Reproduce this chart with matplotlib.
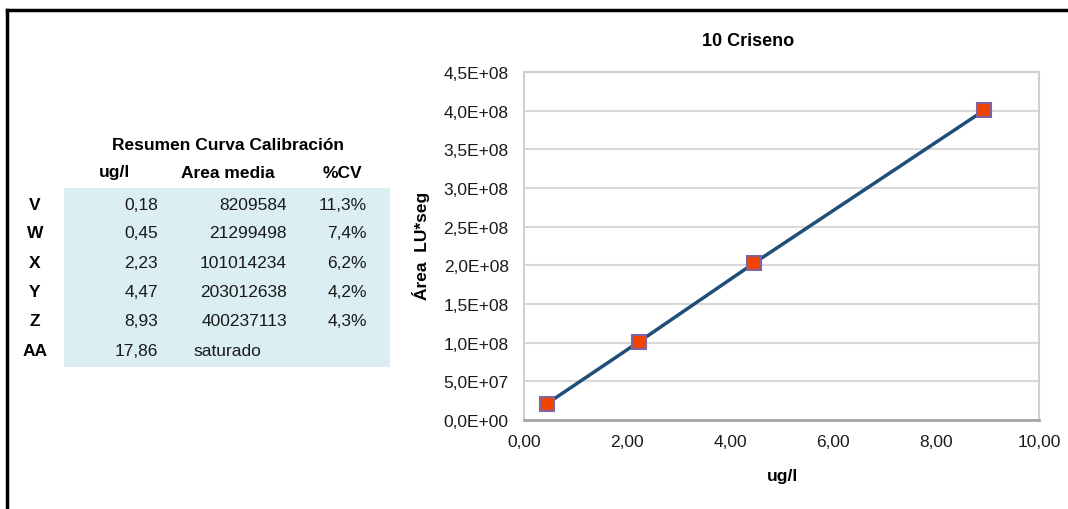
import matplotlib.pyplot as plt
from matplotlib.lines import Line2D
from matplotlib.patches import Rectangle
from matplotlib.ticker import FuncFormatter, MultipleLocator

plt.rcParams['font.family'] = ['Liberation Sans', 'DejaVu Sans']

# calibration summary
labels = ['V', 'W', 'X', 'Y', 'Z', 'AA']
conc_text = ['0,18', '0,45', '2,23', '4,47', '8,93', '17,86']
area_text = ['8209584', '21299498', '101014234', '203012638', '400237113', 'saturado']
cv_text = ['11,3%', '7,4%', '6,2%', '4,2%', '4,3%', '']

# points used in the curve (W..Z)
conc = [0.45, 2.23, 4.47, 8.93]
area = [21299498, 101014234, 203012638, 400237113]

W, H = 1068, 510
fig = plt.figure(figsize=(W / 100, H / 100), dpi=100)


def px(x, y):
    return x / W, 1 - y / H


# frame lines (left and top)
fig.add_artist(Line2D([7 / W, 7 / W], [0, 1 - 11 / H], color='black', lw=2.5,
                      transform=fig.transFigure))
fig.add_artist(Line2D([7 / W, 1], [1 - 11 / H, 1 - 11 / H], color='black', lw=2.5,
                      transform=fig.transFigure))

# table background
x0, y0 = px(64, 368)
fig.add_artist(Rectangle((x0, y0), (390 - 64) / W, (368 - 189) / H,
                         facecolor='#daeef3', edgecolor='none',
                         transform=fig.transFigure))

fs = 12.5
fig.text(*px(228, 145), 'Resumen Curva Calibración', ha='center', va='center',
         fontsize=fs, fontweight='bold')
fig.text(*px(115, 173), 'ug/l', ha='center', va='center', fontsize=fs, fontweight='bold')
fig.text(*px(228, 173), 'Area media', ha='center', va='center', fontsize=fs, fontweight='bold')
fig.text(*px(342, 173), '%CV', ha='center', va='center', fontsize=fs, fontweight='bold')

row_y = [205, 234, 263, 293, 322, 352]
for lab, c, a, cv, y in zip(labels, conc_text, area_text, cv_text, row_y):
    fig.text(*px(35, y), lab, ha='center', va='center', fontsize=fs, fontweight='bold')
    fig.text(*px(158, y), c, ha='right', va='center', fontsize=fs, color='#1a1a1a')
    if a == 'saturado':
        fig.text(*px(193, y), a, ha='left', va='center', fontsize=fs, color='#1a1a1a')
    else:
        fig.text(*px(287, y), a, ha='right', va='center', fontsize=fs, color='#1a1a1a')
    fig.text(*px(367, y), cv, ha='right', va='center', fontsize=fs, color='#1a1a1a')

# chart
ax = fig.add_axes([524 / W, 1 - 421 / H, (1039 - 524) / W, (421 - 73) / H])
ax.plot(conc, area, color='#1f4e79', lw=2.5, zorder=3)
ax.plot(conc, area, ls='none', marker='s', markersize=10,
        markerfacecolor='#f04400', markeredgecolor='#8064a2', markeredgewidth=1.5,
        zorder=4)

ax.set_xlim(0, 10)
ax.set_ylim(0, 4.5e8)
ax.xaxis.set_major_locator(MultipleLocator(2))
ax.yaxis.set_major_locator(MultipleLocator(5e7))
ax.xaxis.set_major_formatter(FuncFormatter(lambda v, p: f'{v:.2f}'.replace('.', ',')))
ax.yaxis.set_major_formatter(FuncFormatter(lambda v, p: f'{v:.1E}'.replace('.', ',')))
ax.tick_params(length=0, labelsize=12.5, colors='#1a1a1a')
ax.tick_params(axis='y', pad=11)
ax.tick_params(axis='x', pad=10)

ax.grid(axis='y', color='#d9d9d9', lw=1.5)
ax.set_axisbelow(True)
for s in ['top', 'right', 'left']:
    ax.spines[s].set_color('#d0d0d0')
    ax.spines[s].set_linewidth(1.5)
ax.spines['bottom'].set_color('#a6a6a6')
ax.spines['bottom'].set_linewidth(2)

fig.text(*px(748, 42), '10 Criseno', ha='center', va='center', fontsize=13, fontweight='bold')
fig.text(*px(783, 477), 'ug/l', ha='center', va='center', fontsize=12.5, fontweight='bold')
fig.text(*px(421, 246), 'Área  LU*seg', ha='center', va='center', fontsize=12.5,
         fontweight='bold', rotation=90)

fig.savefig('out.png', dpi=100)
